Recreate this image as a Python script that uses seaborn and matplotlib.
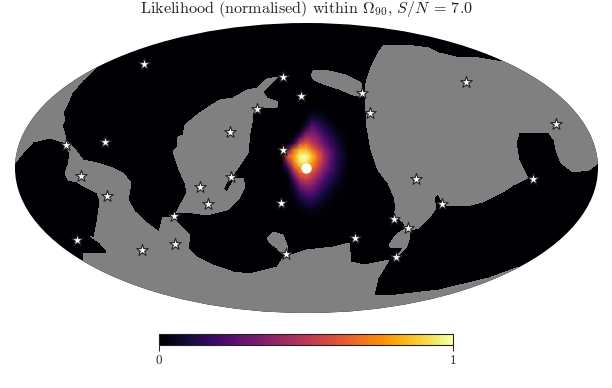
import numpy as np
import pandas as pd
import matplotlib
matplotlib.use("Agg")
import matplotlib.pyplot as plt
from matplotlib.patches import Ellipse, Polygon
import seaborn as sns

# Map-plane positions, in the units of the map axes
star_x = [144, 283, 301, 257, 362, 370, 466, 556, 230, 105, 66, 283, 81, 200, 231,
          416, 533, 107, 208, 281, 174, 442, 394, 408, 355, 77, 142, 175, 286, 396]
star_y = [64, 77, 96, 109, 93, 113, 82, 124, 132, 142, 145, 150, 176, 187, 177,
          179, 179, 196, 204, 203, 216, 204, 219, 228, 238, 240, 250, 244, 254, 257]
source_x = [306]
source_y = [168]

mask_wedge = [(97, 67), (83, 80), (72, 93), (68, 103), (63, 112), (65, 120), (62, 125), (65, 135),
              (66, 142), (63, 142), (50, 138), (33, 142), (23, 153), (15, 163), (0, 170), (0, 20), (97, 20)]
mask_lower = [(66, 140), (74, 148), (83, 160), (97, 163), (110, 167), (123, 173), (131, 183), (128, 200),
              (135, 212), (147, 223), (159, 232), (163, 217), (173, 218), (180, 225), (190, 235), (188, 248),
              (197, 257), (213, 265), (233, 272), (250, 274), (277, 267), (283, 258), (297, 253), (306, 250),
              (333, 247), (349, 243), (351, 262), (364, 265), (389, 260), (378, 278), (374, 295), (396, 295),
              (439, 290), (489, 278), (519, 267), (540, 330), (300, 330), (83, 330), (83, 253), (106, 253),
              (106, 250), (100, 243), (90, 236), (94, 238), (97, 222), (99, 208), (100, 200), (97, 193),
              (85, 187), (77, 182), (68, 180), (65, 173), (68, 165), (70, 153), (63, 142)]
mask_central = [(278, 77), (267, 79), (257, 88), (247, 90), (233, 98), (220, 100), (210, 106), (197, 115),
                (185, 125), (183, 135), (178, 137), (177, 147), (173, 152), (178, 167), (185, 183), (187, 192),
                (182, 202), (176, 213), (193, 213), (207, 215), (227, 210), (238, 200), (245, 187), (243, 178),
                (235, 178), (227, 192), (223, 189), (227, 182), (233, 175), (248, 153), (250, 133), (252, 123),
                (253, 113), (260, 108), (277, 107), (278, 102), (267, 98), (263, 92)]
mask_right = [(384, 45), (406, 45), (429, 48), (439, 53), (456, 57), (479, 58), (503, 62), (560, 30),
              (640, 100), (640, 165), (598, 163), (589, 170), (573, 172), (561, 163), (556, 150), (554, 140),
              (549, 133), (519, 133), (516, 143), (519, 160), (528, 178), (513, 185), (503, 192), (483, 202),
              (466, 206), (446, 205), (442, 202), (438, 193), (434, 198), (436, 208), (429, 218), (419, 228),
              (410, 230), (409, 240), (406, 248), (396, 258), (404, 247), (391, 248), (389, 245), (396, 235),
              (406, 228), (403, 222), (394, 215), (396, 208), (394, 197), (388, 183), (378, 170), (371, 150),
              (368, 133), (366, 123), (366, 113), (365, 100), (366, 83), (371, 67), (378, 53)]
mask_upper = [(311, 75), (314, 70), (329, 71), (346, 75), (361, 83), (363, 97), (353, 95), (339, 89),
              (326, 85), (314, 80)]
mask_small = [(267, 238), (273, 232), (283, 235), (287, 245), (288, 253), (283, 255), (277, 248), (270, 243)]

# Likelihood
heat_cols = [276, 282, 288, 294, 300, 306, 312, 318, 324, 330, 336, 342, 348]
heat_rows = [108, 114, 120, 126, 132, 138, 144, 150, 156, 162, 168, 174, 180, 186, 192, 198, 204, 210, 216]
heat_values = [
    [0, 0, 0, 0, 0, 0, .02, .02, .01, 0, 0, 0, 0],
    [0, 0, 0, 0, 0, .01, .05, .05, .03, .01, 0, 0, 0],
    [0, 0, 0, 0, 0, .03, .12, .10, .06, .03, .01, 0, 0],
    [0, 0, 0, 0, .01, .08, .25, .18, .11, .06, .03, .01, 0],
    [0, 0, 0, .01, .04, .28, .34, .27, .17, .10, .05, .02, .01],
    [0, 0, 0, .02, .25, .45, .42, .35, .24, .15, .08, .04, .015],
    [0, 0, .01, .16, .58, .65, .52, .42, .30, .19, .11, .05, .02],
    [0, .01, .30, .68, .85, .85, .70, .55, .38, .25, .14, .07, .025],
    [0, .02, .62, .78, .97, 1.0, .86, .66, .45, .29, .16, .08, .03],
    [0, .01, .42, .74, .95, .97, .80, .62, .43, .27, .15, .08, .03],
    [0, 0, .16, .58, .78, .82, .70, .54, .38, .25, .14, .07, .025],
    [0, 0, .05, .36, .62, .67, .56, .44, .30, .19, .11, .05, .02],
    [0, 0, .02, .20, .45, .52, .45, .34, .23, .14, .08, .03, .01],
    [0, 0, .01, .10, .30, .37, .35, .26, .17, .10, .05, .025, .01],
    [0, 0, 0, .05, .18, .26, .26, .19, .11, .06, .03, .015, 0],
    [0, 0, 0, .03, .10, .16, .17, .12, .07, .04, .02, .01, 0],
    [0, 0, 0, .01, .05, .09, .10, .07, .04, .02, .01, 0, 0],
    [0, 0, 0, 0, .02, .04, .05, .04, .02, .01, 0, 0, 0],
    [0, 0, 0, 0, 0, .01, .02, .02, .01, 0, 0, 0, 0],
]
title_text = r"Likelihood (normalised) within $\Omega_{90}$, $S/N$ = 7.0"
cbar_ticks = [0, 1]

W, H = 612, 388
GREY = "#808080"
sns.set_theme(style="white")
plt.rcParams["font.family"] = ["cmr10", "DejaVu Serif"]
plt.rcParams["mathtext.fontset"] = "cm"
plt.rcParams["axes.formatter.use_mathtext"] = True
plt.rcParams["axes.unicode_minus"] = False


def box(x0, y0, x1, y1):
    return [x0 / W, 1 - y1 / H, (x1 - x0) / W, (y1 - y0) / H]


fig = plt.figure(figsize=(W / 100, H / 100), dpi=100, facecolor="white")

# Base map
ax = fig.add_axes(box(15, 23, 598, 313), zorder=1)
ax.set_xlim(15, 598)
ax.set_ylim(313, 23)
ax.axis("off")
sky = Ellipse((306.5, 168), 583, 290, facecolor=plt.get_cmap("inferno")(0.0), edgecolor="none", zorder=1)
ax.add_patch(sky)
for poly in (mask_wedge, mask_lower, mask_central, mask_right, mask_upper, mask_small):
    p = Polygon(poly, closed=True, facecolor=GREY, edgecolor="none", zorder=2, antialiased=False)
    ax.add_patch(p)
    p.set_clip_path(sky)

# Likelihood peak and colour bar
hax = fig.add_axes(box(heat_cols[0], heat_rows[0], heat_cols[-1], heat_rows[-1]), zorder=2)
cax = fig.add_axes(box(159, 334, 453, 345), zorder=4)
frame = pd.DataFrame(heat_values, index=heat_rows, columns=heat_cols)
sns.heatmap(frame, ax=hax, cmap="inferno", vmin=0, vmax=1, shading="gouraud",
            xticklabels=False, yticklabels=False, cbar_ax=cax,
            cbar_kws={"orientation": "horizontal", "ticks": cbar_ticks})
hax.set_xlim(0, len(heat_cols) - 1)
hax.set_ylim(len(heat_rows) - 1, 0)
hax.set_xlabel("")
hax.set_ylabel("")
hax.axis("off")
hax.patch.set_alpha(0)

cbar = hax.collections[0].colorbar
cbar.outline.set_visible(True)
cbar.outline.set_linewidth(0.8)
cbar.outline.set_edgecolor("#222222")
cax.tick_params(axis="x", length=4, width=0.7, color="#222222", labelsize=9.5,
                labelcolor="#222222", pad=3, bottom=True)
cax.set_xticklabels(["0", "1"])

# Stars on top
oax = fig.add_axes(box(15, 23, 598, 313), zorder=3)
oax.patch.set_alpha(0)
sns.scatterplot(x=star_x, y=star_y, ax=oax, marker="*", s=75, color="white",
                edgecolor="#222222", linewidth=0.8, legend=False, zorder=3)
sns.scatterplot(x=source_x, y=source_y, ax=oax, marker="o", s=55, color="white",
                edgecolor="white", linewidth=0, legend=False, zorder=4)
oax.set_xlim(15, 598)
oax.set_ylim(313, 23)
oax.axis("off")

fig.text(306 / W, 1 - 13 / H, title_text, ha="center", va="baseline", fontsize=11.6, color="#222222")

fig.savefig("out.png", dpi=100)
